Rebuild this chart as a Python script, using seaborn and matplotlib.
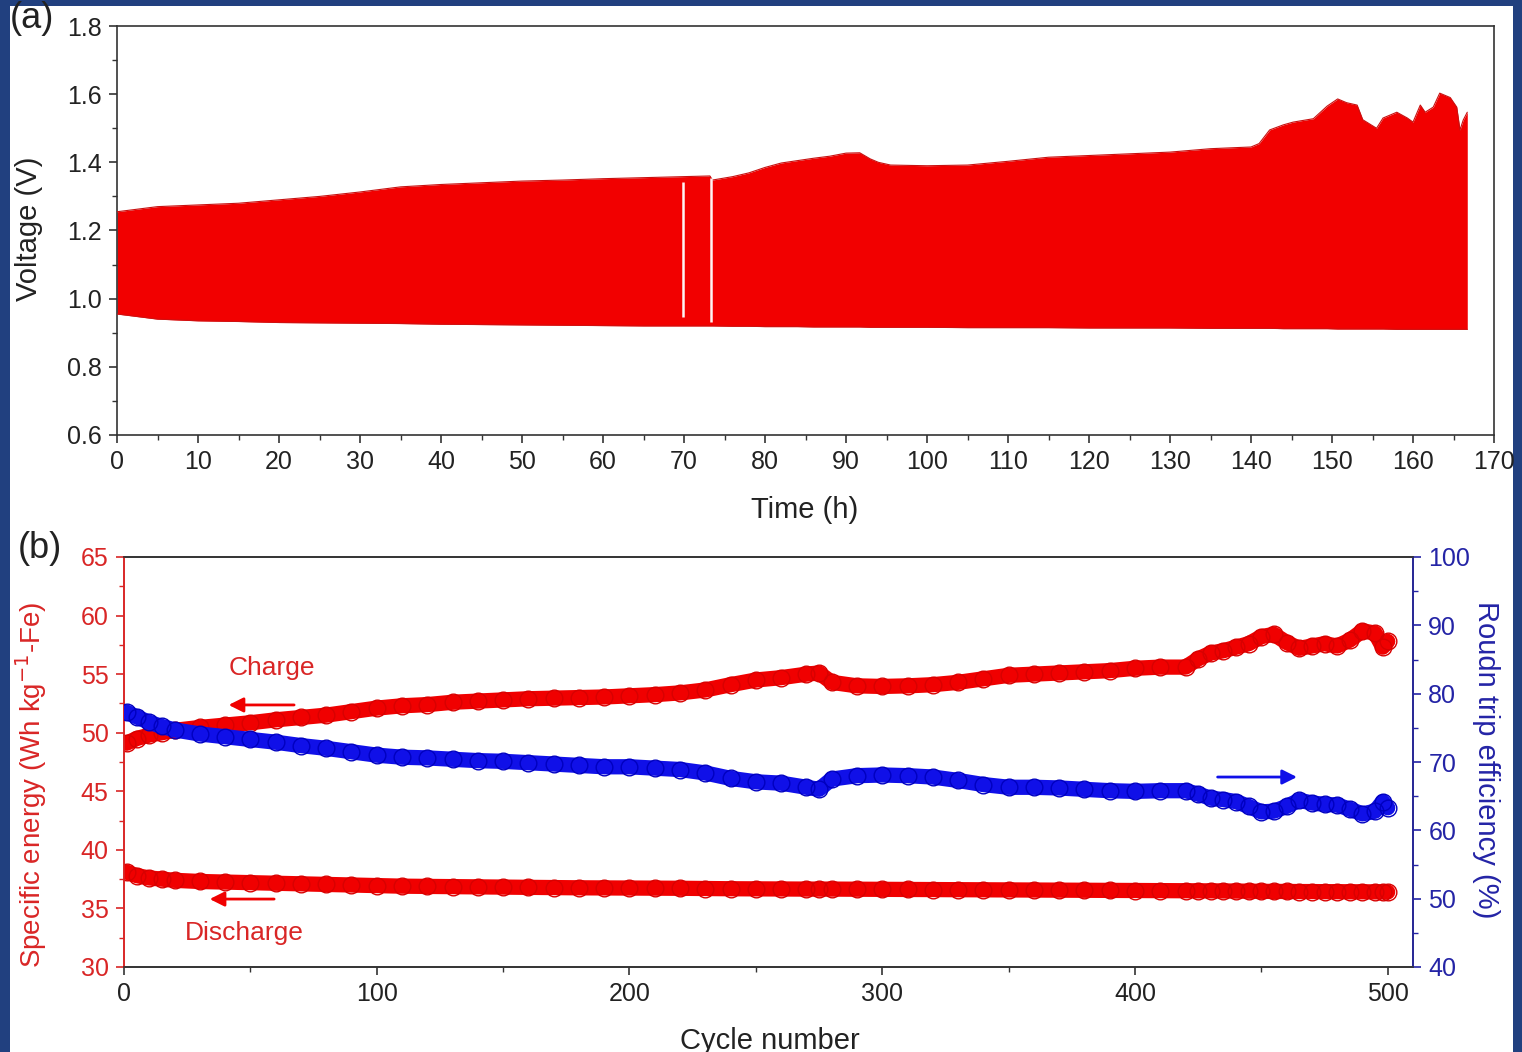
import numpy as np
import pandas as pd
import seaborn as sns
import matplotlib
matplotlib.use("Agg")
import matplotlib.pyplot as plt
from matplotlib.patches import Rectangle
from matplotlib.ticker import MultipleLocator, FormatStrFormatter

# ---------------- data: panel (a) ----------------
time_h = [0, 5, 10, 15, 20, 25, 30, 35, 40, 45, 50, 55, 60, 65, 69.9, 73.2, 73.5,
          76, 78, 80, 82, 84, 86, 88, 90, 91.7, 93, 94, 95.5, 100, 105, 110, 115,
          120, 125, 130, 135, 140, 141, 142.3, 144, 145.2, 147.7, 149.4, 150.7,
          151.8, 153.1, 153.8, 155.5, 156.3, 158, 159.3, 160, 160.9, 161.5, 162.5,
          163.3, 164.6, 165.4, 165.8, 166.2, 166.7]
v_upper = [1.255, 1.27, 1.275, 1.28, 1.29, 1.30, 1.313, 1.328, 1.335, 1.34, 1.345,
           1.348, 1.352, 1.355, 1.358, 1.36, 1.348, 1.358, 1.369, 1.385, 1.398,
           1.405, 1.412, 1.418, 1.427, 1.428, 1.41, 1.40, 1.392, 1.39, 1.392, 1.403,
           1.415, 1.42, 1.425, 1.43, 1.44, 1.445, 1.455, 1.495, 1.51, 1.518, 1.528,
           1.565, 1.586, 1.575, 1.568, 1.525, 1.50, 1.53, 1.547, 1.53, 1.518, 1.568,
           1.547, 1.562, 1.603, 1.59, 1.562, 1.495, 1.524, 1.547]
v_lower = [0.955, 0.94, 0.935, 0.933, 0.93, 0.929, 0.928, 0.927, 0.925, 0.924, 0.923,
           0.922, 0.921, 0.92, 0.92, 0.92, 0.92, 0.919, 0.919, 0.918, 0.918, 0.918,
           0.917, 0.917, 0.917, 0.917, 0.916, 0.916, 0.916, 0.916, 0.915, 0.915,
           0.915, 0.914, 0.914, 0.914, 0.913, 0.913, 0.913, 0.913, 0.912, 0.912,
           0.912, 0.912, 0.911, 0.911, 0.911, 0.911, 0.911, 0.911, 0.910, 0.910,
           0.910, 0.910, 0.910, 0.910, 0.910, 0.910, 0.910, 0.910, 0.910, 0.910]
gap_times = [69.9, 73.3]
gap_top = [1.342, 1.354]
gap_bottom = [0.946, 0.932]

# ---------------- data: panel (b) ----------------
cycles = [1, 5, 10, 15, 20, 30, 40, 50, 60, 70, 80, 90, 100, 110, 120, 130, 140, 150,
          160, 170, 180, 190, 200, 210, 220, 230, 240, 250, 260, 270, 275, 280, 290,
          300, 310, 320, 330, 340, 350, 360, 370, 380, 390, 400, 410, 420, 425, 430,
          435, 440, 445, 450, 455, 460, 465, 470, 475, 480, 485, 490, 495, 498, 500]
charge = [49.1, 49.5, 49.8, 50.0, 50.2, 50.45, 50.65, 50.85, 51.1, 51.3, 51.5, 51.8,
          52.1, 52.3, 52.4, 52.6, 52.7, 52.8, 52.9, 52.95, 53.0, 53.05, 53.15, 53.25,
          53.4, 53.65, 54.1, 54.5, 54.7, 55.0, 55.1, 54.3, 54.0, 53.95, 54.0, 54.1,
          54.3, 54.6, 54.9, 55.0, 55.1, 55.2, 55.3, 55.5, 55.6, 55.6, 56.3, 56.8,
          57.0, 57.3, 57.6, 58.2, 58.4, 57.7, 57.2, 57.4, 57.6, 57.4, 57.9, 58.7,
          58.5, 57.3, 57.8]
discharge = [38.1, 37.8, 37.6, 37.5, 37.4, 37.3, 37.25, 37.2, 37.15, 37.1, 37.05,
             37.0, 36.95, 36.9, 36.88, 36.86, 36.84, 36.82, 36.8, 36.78, 36.76,
             36.75, 36.74, 36.73, 36.72, 36.7, 36.68, 36.67, 36.66, 36.65, 36.65,
             36.65, 36.64, 36.63, 36.62, 36.61, 36.6, 36.59, 36.58, 36.57, 36.56,
             36.55, 36.54, 36.53, 36.52, 36.51, 36.5, 36.5, 36.49, 36.48, 36.47,
             36.46, 36.45, 36.45, 36.44, 36.44, 36.43, 36.43, 36.42, 36.42, 36.41,
             36.41, 36.4]
efficiency = [77.3, 76.6, 75.8, 75.2, 74.7, 74.1, 73.7, 73.3, 72.9, 72.4, 72.0, 71.5,
              71.0, 70.7, 70.6, 70.4, 70.2, 70.1, 69.9, 69.7, 69.5, 69.3, 69.3, 69.1,
              68.9, 68.4, 67.6, 67.1, 66.9, 66.3, 66.0, 67.5, 68.0, 68.1, 68.0, 67.8,
              67.3, 66.7, 66.3, 66.3, 66.2, 66.0, 65.8, 65.7, 65.8, 65.8, 65.3, 64.7,
              64.5, 64.2, 63.5, 62.7, 62.8, 63.5, 64.4, 64.0, 63.8, 63.7, 63.1, 62.4,
              62.8, 64.2, 63.3]

volt_df = pd.DataFrame({"t": time_h, "up": v_upper, "lo": v_lower})
cyc_df = pd.DataFrame({"cycle": cycles, "charge": charge,
                       "discharge": discharge, "eff": efficiency})

# ---------------- style ----------------
sns.set_theme(style="ticks")
plt.rcParams["font.family"] = ["Liberation Sans", "DejaVu Sans"]
plt.rcParams["axes.linewidth"] = 1.2

RED_FILL = "#f20000"
RED = "#f00000"
RED_TXT = "#d92626"
BLUE = "#1010e8"
BLUE_AX = "#2424a6"
DARK = "#333333"
TXT = "#222222"
TICK_FS = 18
LAB_FS = 21

fig = plt.figure(figsize=(15.22, 10.52), dpi=100)
fig.patch.set_facecolor("#21407f")
fig.patches.append(Rectangle((10 / 1522, 0), 1503 / 1522, 1046 / 1052,
                             transform=fig.transFigure, facecolor="white",
                             edgecolor="none", zorder=-1))

# ---------------- panel (a) ----------------
ax1 = fig.add_axes([117 / 1522, 1 - 435 / 1052, 1377 / 1522, 409 / 1052])
ax1.fill_between(volt_df["t"], volt_df["lo"], volt_df["up"], color=RED_FILL,
                 linewidth=0, zorder=2)
sns.lineplot(data=volt_df, x="t", y="up", ax=ax1, color="#c81010", lw=0.8, zorder=3)
sns.lineplot(data=volt_df, x="t", y="lo", ax=ax1, color="#d01010", lw=0.8, zorder=3)
ax1.vlines(gap_times, gap_bottom, gap_top, colors="#fff4f4", lw=1.8, zorder=4)

ax1.set_xlim(0, 170)
ax1.set_ylim(0.6, 1.8)
ax1.xaxis.set_major_locator(MultipleLocator(10))
ax1.xaxis.set_minor_locator(MultipleLocator(5))
ax1.yaxis.set_major_locator(MultipleLocator(0.2))
ax1.yaxis.set_minor_locator(MultipleLocator(0.1))
ax1.yaxis.set_major_formatter(FormatStrFormatter("%.1f"))
ax1.tick_params(which="major", length=6, width=1.2, color=DARK, labelsize=TICK_FS,
                labelcolor=TXT, direction="out", pad=5)
ax1.tick_params(which="minor", length=3.5, width=1.0, color=DARK, direction="out")
for s in ax1.spines.values():
    s.set_color(DARK)
ax1.set_xlabel("Time (h)", fontsize=LAB_FS, color=TXT)
ax1.set_ylabel("Voltage (V)", fontsize=LAB_FS, color=TXT)
ax1.xaxis.set_label_coords(688 / 1377, -0.149)
ax1.yaxis.set_label_coords(-0.054, 0.505)

# ---------------- panel (b) ----------------
ax2 = fig.add_axes([124 / 1522, 1 - 967 / 1052, 1289 / 1522, 410 / 1052])
for col in ["charge", "discharge"]:
    sns.lineplot(data=cyc_df, x="cycle", y=col, ax=ax2, color=RED, lw=11,
                 marker="o", markersize=12, markerfacecolor="none",
                 markeredgecolor="#d80000", markeredgewidth=1.0, zorder=3)
ax2.set_xlim(0, 510)
ax2.set_ylim(30, 65)
ax2.xaxis.set_major_locator(MultipleLocator(100))
ax2.xaxis.set_minor_locator(MultipleLocator(50))
ax2.yaxis.set_major_locator(MultipleLocator(5))
ax2.yaxis.set_minor_locator(MultipleLocator(2.5))
ax2.tick_params(axis="x", which="major", length=6, width=1.2, color=DARK,
                labelsize=TICK_FS, labelcolor=TXT, pad=5)
ax2.tick_params(axis="x", which="minor", length=3.5, width=1.0, color=DARK)
ax2.tick_params(axis="y", which="major", length=6, width=1.2, color=RED_TXT,
                labelsize=TICK_FS, labelcolor=RED_TXT, pad=5)
ax2.tick_params(axis="y", which="minor", length=3.5, width=1.0, color=RED_TXT)
ax2.spines["left"].set_color(RED_TXT)
ax2.spines["bottom"].set_color(DARK)
ax2.spines["top"].set_color(DARK)
ax2.set_xlabel("Cycle number", fontsize=LAB_FS, color=TXT)
ax2.set_ylabel("Specific energy (Wh kg$^{-1}$-Fe)", fontsize=20, color=RED_TXT)
ax2.xaxis.set_label_coords(646 / 1289, -0.146)
ax2.yaxis.set_label_coords(-0.058, 0.444)

ax3 = ax2.twinx()
sns.lineplot(data=cyc_df, x="cycle", y="eff", ax=ax3, color=BLUE, lw=11,
             marker="o", markersize=12, markerfacecolor="none",
             markeredgecolor="#0000c0", markeredgewidth=1.0, zorder=3)
ax3.set_ylim(40, 100)
ax3.yaxis.set_major_locator(MultipleLocator(10))
ax3.yaxis.set_minor_locator(MultipleLocator(5))
ax3.tick_params(axis="y", which="major", length=6, width=1.2, color=BLUE_AX,
                labelsize=TICK_FS, labelcolor=BLUE_AX, pad=5)
ax3.tick_params(axis="y", which="minor", length=3.5, width=1.0, color=BLUE_AX)
ax3.spines["right"].set_color(BLUE_AX)
ax3.spines["left"].set_color(RED_TXT)
ax3.spines["top"].set_color(DARK)
ax3.spines["bottom"].set_color(DARK)
ax3.set_ylabel("Roudn trip efficiency (%)", fontsize=LAB_FS, color=BLUE_AX,
               rotation=270, va="bottom")
ax3.yaxis.set_label_coords(1.046, 0.505)

# annotations
ax2.annotate("", xy=(40.3, 52.37), xytext=(68.4, 52.37),
             arrowprops=dict(arrowstyle="-|>", color=RED, lw=2, mutation_scale=22))
ax2.text(58.5, 55.5, "Charge", color=RED_TXT, fontsize=19, ha="center", va="center")
ax2.annotate("", xy=(32.8, 35.8), xytext=(60.5, 35.8),
             arrowprops=dict(arrowstyle="-|>", color=RED, lw=2, mutation_scale=22))
ax2.text(47.5, 32.9, "Discharge", color=RED_TXT, fontsize=19, ha="center", va="center")
ax3.annotate("", xy=(465.2, 67.8), xytext=(431.6, 67.8),
             arrowprops=dict(arrowstyle="-|>", color=BLUE, lw=2, mutation_scale=22))

fig.text(32 / 1522, 1 - 18 / 1052, "(a)", fontsize=26, color=TXT,
         ha="center", va="center")
fig.text(40 / 1522, 1 - 548 / 1052, "(b)", fontsize=26, color=TXT,
         ha="center", va="center")

fig.savefig("out.png", dpi=100, facecolor=fig.get_facecolor())
